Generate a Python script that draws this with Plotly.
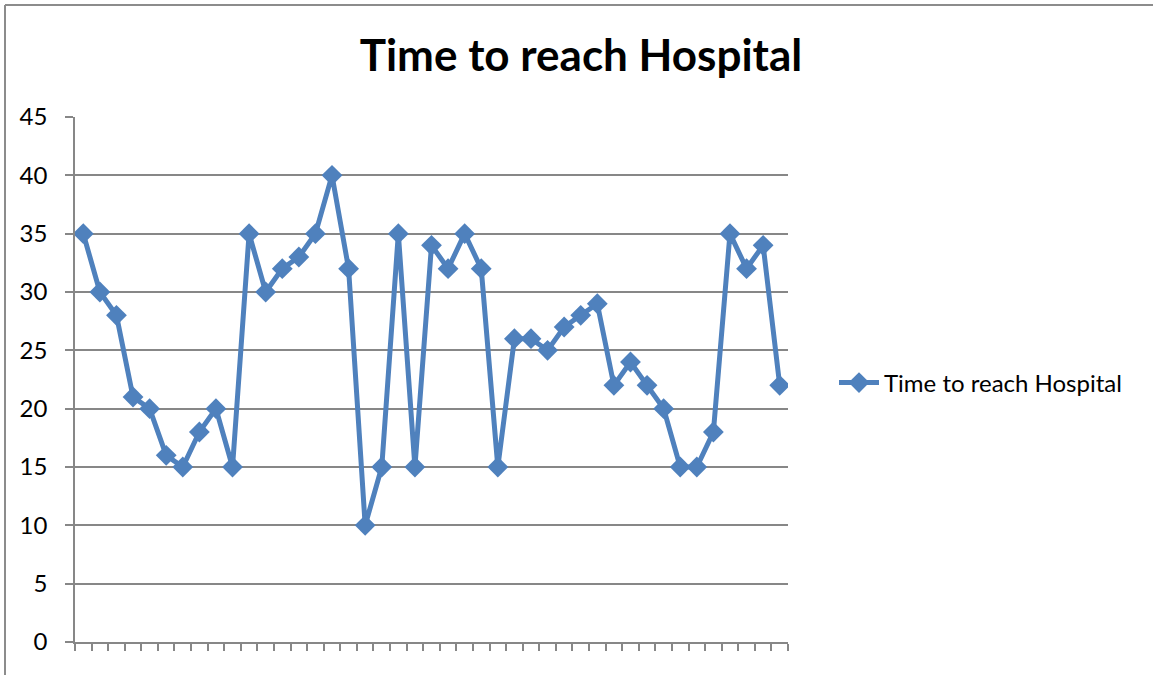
import plotly.graph_objects as go

# Series: minutes taken to reach hospital, one value per case
case_no = list(range(1, 44))
minutes = [35, 30, 28, 21, 20, 16, 15, 18, 20, 15,
           35, 30, 32, 33, 35, 40, 32, 10, 15, 35,
           15, 34, 32, 35, 32, 15, 26, 26, 25, 27,
           28, 29, 22, 24, 22, 20, 15, 15, 18, 35,
           32, 34, 22]
y_ticks = [0, 5, 10, 15, 20, 25, 30, 35, 40, 45]
series_name = "Time to reach Hospital"

W, H = 1153, 675
L, R, T, B = 75, 365, 117, 33
pw, ph = W - L - R, H - T - B

blue = "#4F81BD"
grid = "#878787"
font_family = "Lato, 'Noto Sans', sans-serif"

fig = go.Figure()
fig.add_trace(go.Scatter(
    x=case_no, y=minutes, mode="lines+markers", name=series_name,
    line=dict(color=blue, width=5),
    marker=dict(symbol="diamond", size=16, color=blue),
))

# outer chart frame (left and top edges)
fx = (5 - L) / pw
fy = 1 + (T - 5) / ph
fig.add_shape(type="line", xref="paper", yref="paper",
              x0=fx, x1=fx, y0=-0.2, y1=fy, line=dict(color="#8c8c8c", width=2))
fig.add_shape(type="line", xref="paper", yref="paper",
              x0=fx, x1=2.0, y0=fy, y1=fy, line=dict(color="#8c8c8c", width=2))

fig.update_layout(
    width=W, height=H,
    margin=dict(l=L, r=R, t=T, b=B),
    paper_bgcolor="white", plot_bgcolor="white",
    font=dict(family=font_family, color="black"),
    title=dict(text="<b>" + series_name + "</b>", x=581 / W, xref="container",
               xanchor="center", y=1 - 56 / H, yref="container", yanchor="middle",
               font=dict(size=44, family=font_family, color="black")),
    showlegend=True,
    legend=dict(x=(834 - L) / pw, y=(642 - 383) / ph, xanchor="left", yanchor="middle",
                font=dict(size=24, family=font_family, color="black"),
                bgcolor="rgba(0,0,0,0)", itemwidth=40),
)

fig.update_xaxes(
    range=[0.5, 43.5], showgrid=False, zeroline=False,
    showline=True, linecolor=grid, linewidth=1.5,
    tickmode="array", tickvals=[i + 0.5 for i in range(0, 44)],
    ticks="outside", ticklen=7, tickcolor=grid, tickwidth=1.5,
    showticklabels=False,
)
fig.update_yaxes(
    range=[0, 45], tickmode="array", tickvals=y_ticks,
    showgrid=True, gridcolor=grid, gridwidth=1.5, zeroline=False,
    showline=True, linecolor=grid, linewidth=1.5,
    ticks="outside", ticklen=8, tickcolor=grid, tickwidth=1.5,
    ticklabelstandoff=13,
    tickfont=dict(size=24, family=font_family, color="black"),
)

fig.write_html("out.html")
